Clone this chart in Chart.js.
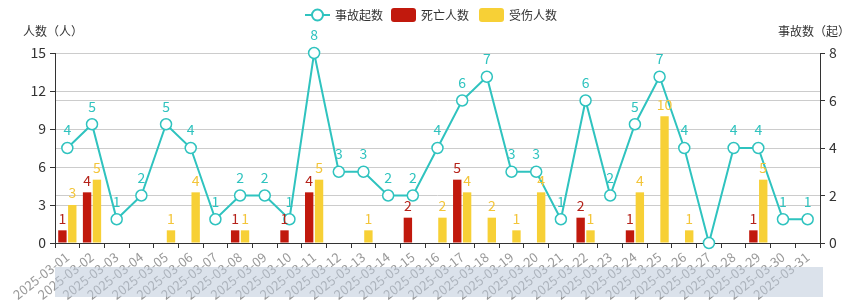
<!DOCTYPE html>
<html>
<head>
<meta charset="utf-8">
<script src="https://cdn.jsdelivr.net/npm/chart.js@4/dist/chart.umd.min.js"></script>
<style>
html,body{margin:0;padding:0;background:#fff;}
#wrap{width:853px;height:308px;position:relative;}
</style>
</head>
<body>
<div id="wrap"><canvas id="c" width="853" height="308"></canvas></div>
<script>
const categories = ["2025-03-01","2025-03-02","2025-03-03","2025-03-04","2025-03-05","2025-03-06","2025-03-07","2025-03-08","2025-03-09","2025-03-10","2025-03-11","2025-03-12","2025-03-13","2025-03-14","2025-03-15","2025-03-16","2025-03-17","2025-03-18","2025-03-19","2025-03-20","2025-03-21","2025-03-22","2025-03-23","2025-03-24","2025-03-25","2025-03-26","2025-03-27","2025-03-28","2025-03-29","2025-03-30","2025-03-31"];
const accidents = [4,5,1,2,5,4,1,2,2,1,8,3,3,2,2,4,6,7,3,3,1,6,2,5,7,4,0,4,4,1,1];
const deaths    = [1,4,0,0,0,0,0,1,0,1,4,0,0,0,2,0,5,0,0,0,0,2,0,1,0,0,0,0,1,0,0];
const injuries  = [3,5,0,0,1,4,0,1,0,0,5,0,1,0,0,2,4,2,1,4,0,1,0,4,10,1,0,0,5,0,0];
const leftTicks = [0,3,6,9,12,15];
const rightTicks = [0,2,4,6,8];

const FONT = '"Microsoft YaHei","Noto Sans CJK SC",sans-serif';
const TEAL = '#2fc3bf';
const RED = '#c1190d';
const YELLOW = '#f7d036';

const labelPlugin = {
  id: 'valueLabels',
  afterDatasetsDraw(chart) {
    const ctx = chart.ctx;
    ctx.save();
    ctx.font = '14px ' + FONT;
    ctx.textAlign = 'center';
    ctx.textBaseline = 'middle';
    chart.data.datasets.forEach((ds, i) => {
      const meta = chart.getDatasetMeta(i);
      meta.data.forEach((el, j) => {
        const v = ds.data[j];
        if (!v) return;
        ctx.fillStyle = ds.labelColor;
        const off = ds.type === 'line' ? 18 : 12;
        ctx.fillText(String(v), el.x, el.y - off);
      });
    });
    ctx.restore();
  },
  afterDraw(chart) {
    const ctx = chart.ctx;
    const ca = chart.chartArea;
    ctx.save();
    // slider band
    ctx.fillStyle = 'rgba(190,202,218,0.55)';
    ctx.fillRect(ca.left, ca.bottom + 24, ca.right - ca.left + 3, 30);
    // axis titles
    ctx.font = '12px ' + FONT;
    ctx.fillStyle = '#333';
    ctx.textBaseline = 'middle';
    ctx.textAlign = 'center';
    ctx.fillText('人数（人）', ca.left - 2, 31);
    ctx.textAlign = 'right';
    ctx.fillText('事故数（起）', 850, 31);
    // legend
    const ly = 15;
    let x = 305;
    ctx.textAlign = 'left';
    ctx.strokeStyle = TEAL; ctx.lineWidth = 2;
    ctx.beginPath(); ctx.moveTo(x, ly); ctx.lineTo(x + 25, ly); ctx.stroke();
    ctx.fillStyle = '#fff';
    ctx.beginPath(); ctx.arc(x + 12.5, ly, 5.5, 0, Math.PI * 2); ctx.fill(); ctx.stroke();
    ctx.fillStyle = '#333';
    ctx.fillText('事故起数', x + 30, ly);
    x = 391;
    ctx.fillStyle = RED;
    roundRect(ctx, x, ly - 7, 25, 14, 3); ctx.fill();
    ctx.fillStyle = '#333';
    ctx.fillText('死亡人数', x + 30, ly);
    x = 479;
    ctx.fillStyle = YELLOW;
    roundRect(ctx, x, ly - 7, 25, 14, 3); ctx.fill();
    ctx.fillStyle = '#333';
    ctx.fillText('受伤人数', x + 30, ly);
    ctx.restore();
  }
};
function roundRect(ctx, x, y, w, h, r) {
  ctx.beginPath();
  ctx.moveTo(x + r, y); ctx.lineTo(x + w - r, y); ctx.quadraticCurveTo(x + w, y, x + w, y + r);
  ctx.lineTo(x + w, y + h - r); ctx.quadraticCurveTo(x + w, y + h, x + w - r, y + h);
  ctx.lineTo(x + r, y + h); ctx.quadraticCurveTo(x, y + h, x, y + h - r);
  ctx.lineTo(x, y + r); ctx.quadraticCurveTo(x, y, x + r, y); ctx.closePath();
}

new Chart(document.getElementById('c'), {
  data: {
    labels: categories,
    datasets: [
      { type: 'line', label: '事故起数', data: accidents, yAxisID: 'y1', order: 0, clip: false,
        borderColor: TEAL, borderWidth: 2, backgroundColor: '#fff',
        pointRadius: 5.5, pointBorderWidth: 1.5, pointBackgroundColor: '#fff', pointBorderColor: TEAL,
        tension: 0, labelColor: TEAL },
      { type: 'bar', label: '死亡人数', data: deaths, yAxisID: 'y', order: 1,
        backgroundColor: RED, categoryPercentage: 0.8, barPercentage: 0.85, labelColor: '#b5231a' },
      { type: 'bar', label: '受伤人数', data: injuries, yAxisID: 'y', order: 1,
        backgroundColor: YELLOW, categoryPercentage: 0.8, barPercentage: 0.85, labelColor: '#f3c53a' }
    ]
  },
  options: {
    responsive: false,
    animation: false,
    layout: { padding: { top: 53, bottom: 0, left: 0, right: 0 } },
    plugins: { legend: { display: false }, tooltip: { enabled: false } },
    scales: {
      x: {
        offset: true,
        grid: { display: true, drawOnChartArea: false, offset: true, color: '#333', tickLength: 5 },
        border: { color: '#333' },
        ticks: { autoSkip: false, minRotation: 38, maxRotation: 38, color: '#999', font: { size: 13, family: FONT }, padding: 1 },
        afterFit(s) { s.height = 65; }
      },
      y: {
        position: 'left', min: 0, max: 15,
        afterBuildTicks(s) { s.ticks = leftTicks.map(v => ({ value: v })); },
        grid: { color: '#ccc', tickLength: 5, tickColor: '#333' },
        border: { color: '#333' },
        ticks: { color: '#333', font: { size: 14, family: FONT }, padding: 4 },
        afterFit(s) { s.width = 55; }
      },
      y1: {
        position: 'right', min: 0, max: 8,
        afterBuildTicks(s) { s.ticks = rightTicks.map(v => ({ value: v })); },
        grid: { color: '#ccc', tickLength: 5, tickColor: '#333' },
        border: { color: '#333' },
        ticks: { color: '#333', font: { size: 14, family: FONT }, padding: 4 },
        afterFit(s) { s.width = 33; }
      }
    }
  },
  plugins: [labelPlugin]
});
</script>
</body>
</html>
